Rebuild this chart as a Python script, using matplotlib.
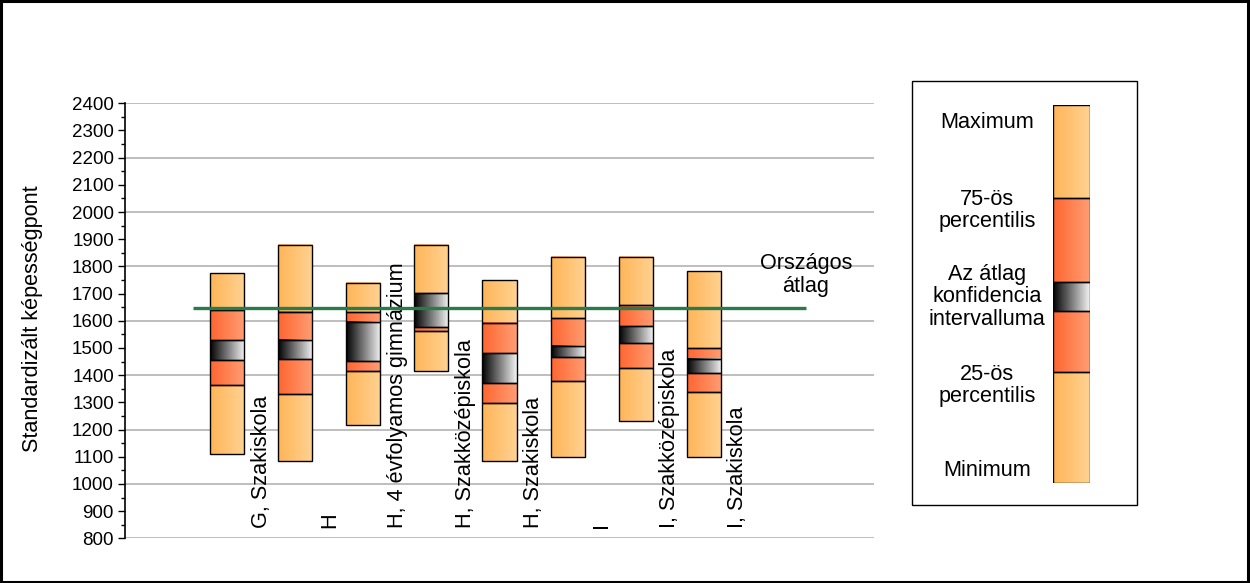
import matplotlib
matplotlib.use("Agg")
import matplotlib.pyplot as plt
import numpy as np
from matplotlib.colors import LinearSegmentedColormap
from matplotlib.patches import Rectangle

plt.rcParams['font.family'] = ['Liberation Sans', 'DejaVu Sans']

# ---------------- data ----------------
categories = ["G, Szakiskola", "H", "H, 4 évfolyamos gimnázium", "H, Szakközépiskola",
              "H, Szakiskola", "I", "I, Szakközépiskola", "I, Szakiskola"]
minimum = [1109, 1083, 1217, 1414, 1084, 1098, 1230, 1098]
q25     = [1363, 1330, 1414, 1561, 1297, 1377, 1425, 1337]
ci_low  = [1455, 1458, 1451, 1576, 1370, 1466, 1519, 1407]
ci_high = [1528, 1528, 1597, 1701, 1480, 1507, 1580, 1459]
q75     = [1640, 1631, 1631, 1701, 1591, 1609, 1657, 1499]
maximum = [1775, 1879, 1738, 1880, 1749, 1834, 1834, 1782]
national_mean = 1646
y_ticks = list(range(800, 2401, 100))
y_label = "Standardizált képességpont"
mean_label = "Országos\nátlag"
legend_labels = ["Maximum", "75-ös\npercentilis", "Az átlag\nkonfidencia\nintervalluma",
                 "25-ös\npercentilis", "Minimum"]

# ---------------- styles ----------------
cm_orange = LinearSegmentedColormap.from_list("o", ["#FFB558", "#FFD292"])
cm_red = LinearSegmentedColormap.from_list("r", ["#FF6530", "#FF9E74"])
cm_black = LinearSegmentedColormap.from_list("k", ["#000000", "#F4F4F4"])
grad = np.linspace(0, 1, 256).reshape(1, -1)
FS = 15.6

W, H = 1250, 583
fig = plt.figure(figsize=(W / 100, H / 100), dpi=100)

ax = fig.add_axes([125 / W, 1 - 538.3 / H, (874 - 125) / W, (538.3 - 103.3) / H])

n = len(categories)
xpos = np.arange(n) + 1.5
bw = 0.5


def seg(a, x, y0, y1, cmap):
    if y1 <= y0:
        return
    a.imshow(grad, extent=[x - bw / 2, x + bw / 2, y0, y1], aspect='auto',
             cmap=cmap, interpolation='bilinear', zorder=3)
    a.add_patch(Rectangle((x - bw / 2, y0), bw, y1 - y0, fill=False,
                          edgecolor='black', lw=1.0, zorder=4))


for i in range(n):
    x = xpos[i]
    seg(ax, x, minimum[i], q25[i], cm_orange)
    seg(ax, x, q75[i], maximum[i], cm_orange)
    seg(ax, x, q25[i], ci_low[i], cm_red)
    seg(ax, x, ci_high[i], q75[i], cm_red)
    seg(ax, x, ci_low[i], ci_high[i], cm_black)

ax.plot([1.0, 10.0], [national_mean, national_mean], color="#2B7A4B", lw=2.4, zorder=5,
        solid_capstyle='butt')
ax.text(10.0, 1768, mean_label, ha='center', va='center', fontsize=FS, linespacing=1.15)

ax.set_xlim(0, 11)
ax.set_ylim(800, 2400)
ax.set_yticks(y_ticks)
ax.set_yticklabels([str(v) for v in y_ticks], fontsize=13.5)
ax.set_yticks(np.arange(850, 2400, 100), minor=True)
ax.tick_params(axis='y', which='major', length=5, width=1, pad=3)
ax.tick_params(axis='y', which='minor', length=3, width=1)
ax.set_xticks([])
for yv in range(800, 2401, 200):
    ax.axhline(yv, color="#B3B3B3", lw=1.2, zorder=1)
for s in ['top', 'right', 'bottom']:
    ax.spines[s].set_visible(False)
ax.spines['left'].set_linewidth(1.2)
ax.spines['left'].set_zorder(6)

# category labels (at the right-hand boundary of each bar's category)
for j, lab in enumerate(categories):
    lx = xpos[j] + 0.5
    ax.text(lx, 0.023, lab, rotation=90, ha='center', va='bottom', fontsize=FS,
            transform=ax.get_xaxis_transform(), zorder=2)

fig.text(33 / W, 1 - 319 / H, y_label, rotation=90, ha='center', va='center', fontsize=FS)

# ---------------- legend ----------------
fig.patches.append(Rectangle((912 / W, 1 - 505 / H), (1137 - 912) / W, (505 - 81) / H,
                             transform=fig.transFigure, fill=False, edgecolor='black', lw=1.0))
lax = fig.add_axes([1053 / W, 1 - 483.3 / H, (1090 - 1053) / W, (483.3 - 105) / H])
bounds = [483.3, 372.3, 311, 282.3, 198.3, 105]
cmaps = [cm_orange, cm_red, cm_black, cm_red, cm_orange]
for k in range(5):
    y0, y1 = bounds[k], bounds[k + 1]
    lax.imshow(grad, extent=[0, 1, y0, y1], aspect='auto', cmap=cmaps[k],
               interpolation='bilinear')
    lax.add_patch(Rectangle((0, y1), 1, y0 - y1, fill=False, edgecolor='black', lw=1.0))
lax.set_xlim(0, 1)
lax.set_ylim(483.3, 105)
lax.axis('off')
leg_y = [123, 210.5, 297, 385.5, 471]
for lab, yy in zip(legend_labels, leg_y):
    fig.text(987 / W, 1 - yy / H, lab, ha='center', va='center', fontsize=FS, linespacing=1.1)

# outer border
fig.patches.append(Rectangle((0.0008, 0.0015), 0.9976, 0.997, transform=fig.transFigure,
                             fill=False, edgecolor='black', lw=2.2))

fig.savefig("out.png", dpi=100)
